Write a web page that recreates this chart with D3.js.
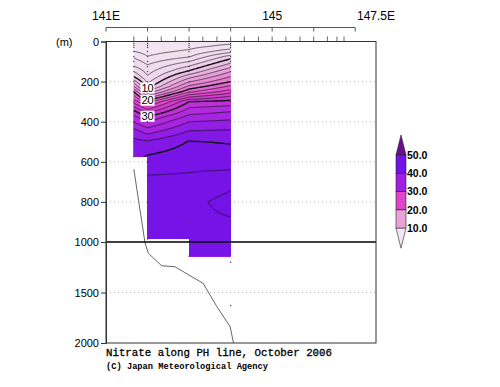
<!DOCTYPE html>
<html>
<head>
<meta charset="utf-8">
<script src="https://cdn.jsdelivr.net/npm/d3@7"></script>
<style>
  body { margin: 0; background: #fff; }
  svg { display: block; }
</style>
</head>
<body>
<div id="chart"></div>
<script>
// PH line stations (deg E) and the deepest sample of each
const stationLon = [141.67, 142.0, 143.0, 144.0]
const stationMaxDepth = [575, 985, 1140, 1630]

// standard depths (m) of the gridded profiles
const levels = [0, 25, 50, 75, 100, 125, 150, 175, 200, 225, 250, 275, 300, 325, 350, 375, 400, 450, 500, 550, 600, 700, 800, 900, 1000, 1100, 1150]

const nitrate141_67 = [0.3, 1.0, 2.05, 3.6, 5.0, 6.1, 8.0, 9.9, 13.0, 16.2, 19.9, 22.6, 25.2, 28.0, 30.6, 32.5, 33.9, 36.9, 38.6, 39.4, null, null, null, null, null, null, null]
const nitrate142_00 = [0.4, 0.7, 1.3, 2.05, 3.3, 4.4, 5.3, 6.2, 7.5, 9.1, 12.6, 16.8, 21.2, 24.4, 27.4, 30.2, 32.0, 35.3, 38.3, 39.6, 40.8, 42.6, 43.1, 43.3, 43.4, null, null]
const nitrate143_00 = [0.8, 1.4, 2.4, 3.8, 6.0, 8.2, 10.4, 13.2, 15.8, 18.6, 21.5, 25.6, 30.0, 31.7, 33.1, 34.6, 36.0, 38.2, 40.1, 40.7, 41.3, 42.6, 43.5, 43.6, 43.6, 43.5, 43.5]
const nitrate144_00 = [1.2, 2.7, 5.3, 8.9, 11.3, 13.5, 16.0, 18.0, 20.0, 22.5, 25.0, 28.3, 30.6, 32.3, 34.0, 35.3, 36.4, 38.4, 39.85, 40.5, 41.0, 43.5, 44.6, 43.8, 43.5, 43.3, 43.2]

// sample depths shown as dots
const sampleDepths = [
  [0, 10, 20, 30, 50, 75, 100, 125, 150, 200, 250, 300, 400, 500, 575],
  [0, 10, 20, 30, 50, 75, 100, 125, 150, 200, 250, 300, 400, 500, 600, 700, 800, 900, 985],
  [0, 10, 20, 30, 50, 75, 100, 125, 150, 200, 250, 300, 400, 500, 600, 700, 800, 900, 1000, 1140],
  [0, 10, 20, 30, 50, 75, 100, 125, 150, 200, 250, 300, 400, 500, 600, 700, 800, 900, 1000, 1200, 1630]
]

// sea floor profile
const bottomLon = [141.67, 141.94, 142.02, 142.34, 142.66, 143.34, 143.67, 143.99, 144.07]
const bottomDepth = [637, 1010, 1112, 1235, 1245, 1410, 1640, 1840, 2000]

// station ticks on the upper frame
const tickLon = [141.67, 142.0, 142.33, 142.67, 143.0, 143.33, 143.67, 144.0, 144.33, 144.67, 145.0, 145.33, 145.67, 146.0, 146.33, 146.56, 146.73]

const depthTicks = [0, 200, 400, 600, 800, 1000, 1500, 2000]
const gridDepths = [200, 400, 600, 800, 1500]
const legendValues = [50, 40, 30, 20, 10]
const legendColors = ['#6a0f8e', '#7312e6', '#a11fe0', '#e044c8', '#e8a2d8', '#f5e6f5']
const labelValues = [10, 20, 30]

const width = 500
const height = 387

const svg = d3.select('#chart').append('svg')
    .attr('width', width)
    .attr('height', height)
    .style('font-family', '"Liberation Sans", Arial, sans-serif')

const x = d3.scaleLinear().domain([141, 147.5]).range([106, 376])
const y = d3.scaleLinear().domain([0, 1000, 2000]).range([41.5, 242, 343])

/**
 * Hold the last value where a profile stops, so the grid stays finite
 */
const columns = [nitrate141_67, nitrate142_00, nitrate143_00, nitrate144_00].map(col => {
  let last = col[0]
  return col.map(v => (v == null ? last : (last = v)))
})

function profileAt (col, d) {
  d = Math.max(levels[0], Math.min(levels[levels.length - 1], d))
  let k = d3.bisectRight(levels, d) - 1
  if (k >= levels.length - 1) k = levels.length - 2
  let t = (d - levels[k]) / (levels[k + 1] - levels[k])
  return col[k] + (col[k + 1] - col[k]) * t
}

function valueAt (lon, d) {
  lon = Math.max(stationLon[0], Math.min(stationLon[3], lon))
  let i = d3.bisectRight(stationLon, lon) - 1
  if (i >= stationLon.length - 1) i = stationLon.length - 2
  let f = (lon - stationLon[i]) / (stationLon[i + 1] - stationLon[i])
  return profileAt(columns[i], d) * (1 - f) + profileAt(columns[i + 1], d) * f
}

// grid for d3.contours
const lonStep = 0.025
const depthStep = 5
const pad = 2
const lon0 = stationLon[0] - pad * lonStep
const depth0 = -pad * depthStep
const nx = Math.round((stationLon[3] - stationLon[0]) / lonStep) + 2 * pad + 1
const ny = Math.round(1150 / depthStep) + 2 * pad + 1
const grid = new Array(nx * ny)
for (let j = 0; j < ny; j++) {
  for (let i = 0; i < nx; i++) {
    grid[j * nx + i] = valueAt(lon0 + i * lonStep, depth0 + j * depthStep)
  }
}

const path = d3.geoPath(d3.geoTransform({
  point: function (gx, gy) {
    this.stream.point(x(lon0 + (gx - 0.5) * lonStep), y(depth0 + (gy - 0.5) * depthStep))
  }
}))

// clip to the sampled part of the section
let clipPts = [[stationLon[0], 0], [stationLon[3], 0]]
for (let i = stationLon.length - 2; i >= 0; i--) {
  let bottom = Math.min(stationMaxDepth[i], stationMaxDepth[i + 1])
  clipPts.push([stationLon[i + 1], bottom], [stationLon[i], bottom])
}
svg.append('clipPath').attr('id', 'section')
  .append('polygon')
    .attr('points', clipPts.map(p => [x(p[0]), y(p[1])].join(',')).join(' '))

// dotted depth grid
svg.append('g')
  .selectAll('line')
  .data(gridDepths)
  .join('line')
    .attr('x1', x(141)).attr('x2', x(147.5))
    .attr('y1', d => y(d)).attr('y2', d => y(d))
    .attr('stroke', '#aaa')
    .attr('stroke-width', 0.8)
    .attr('stroke-dasharray', '1,3')

// shading
const shade = d3.scaleLinear()
    .domain([0, 8, 12, 16, 20, 25, 30, 35, 40, 50])
    .range(['#f3e6f3', '#efd6ed', '#eab8e2', '#e696d6', '#e070d0', '#dc48c8', '#c432d6', '#a424e0', '#7a14e8', '#6e10e6'])
    .clamp(true)

const section = svg.append('g').attr('clip-path', 'url(#section)')

const fillLevels = d3.range(0, 50, 2)
section.append('g')
  .selectAll('path')
  .data(d3.contours().size([nx, ny]).thresholds(fillLevels)(grid))
  .join('path')
    .attr('d', path)
    .attr('fill', d => shade(d.value + 1))
    .attr('stroke', d => shade(d.value + 1))
    .attr('stroke-width', 0.4)

const lineLevels = d3.range(2, 46, 2)
section.append('g')
  .selectAll('path')
  .data(d3.contours().size([nx, ny]).thresholds(lineLevels)(grid))
  .join('path')
    .attr('d', path)
    .attr('fill', 'none')
    .attr('stroke', '#111')
    .attr('stroke-width', d => (d.value % 10 === 0 ? 1.4 : 0.6))

// contour labels at 142.0E
function crossing (col, v) {
  for (let k = 0; k < levels.length - 1; k++) {
    if ((col[k] - v) * (col[k + 1] - v) <= 0 && col[k + 1] !== col[k]) {
      return levels[k] + (v - col[k]) / (col[k + 1] - col[k]) * (levels[k + 1] - levels[k])
    }
  }
  return null
}
const labels = svg.append('g')
  .selectAll('g')
  .data(labelValues)
  .join('g')
    .attr('transform', d => `translate(${x(stationLon[1])},${y(crossing(columns[1], d))})`)
labels.append('rect')
    .attr('x', -7).attr('y', -5.5).attr('width', 14).attr('height', 11)
    .attr('fill', '#fff')
labels.append('text')
    .attr('text-anchor', 'middle')
    .attr('dy', '0.36em')
    .attr('font-size', 11)
    .text(d => d)

// sample dots
svg.append('g')
  .selectAll('g')
  .data(sampleDepths)
  .join('g')
  .selectAll('circle')
  .data((depths, i) => depths.map(d => [stationLon[i], d]))
  .join('circle')
    .attr('cx', d => x(d[0]))
    .attr('cy', d => y(d[1]))
    .attr('r', 0.7)
    .attr('fill', '#444')

// sea floor
svg.append('path')
    .datum(d3.zip(bottomLon, bottomDepth))
    .attr('d', d3.line().x(d => x(d[0])).y(d => y(d[1])))
    .attr('fill', 'none')
    .attr('stroke', '#555')
    .attr('stroke-width', 0.9)

// 1000 m line
svg.append('line')
    .attr('x1', x(141)).attr('x2', x(147.5))
    .attr('y1', y(1000)).attr('y2', y(1000))
    .attr('stroke', '#000')
    .attr('stroke-width', 1.3)

// frame
svg.append('rect')
    .attr('x', x(141)).attr('y', y(0))
    .attr('width', x(147.5) - x(141)).attr('height', y(2000) - y(0))
    .attr('fill', 'none')
    .attr('stroke', '#333')
    .attr('stroke-width', 1)

// station ticks above the frame
svg.append('g')
  .selectAll('line')
  .data(tickLon)
  .join('line')
    .attr('x1', d => x(d)).attr('x2', d => x(d))
    .attr('y1', y(0) - 5).attr('y2', y(0))
    .attr('stroke', '#444')
    .attr('stroke-width', 0.8)

// depth axis
const yAxis = svg.append('g')
    .attr('transform', `translate(${x(141)},0)`)
    .call(d3.axisLeft(y).tickValues(depthTicks).tickFormat(d3.format('d')).tickSize(5).tickPadding(2))
yAxis.select('.domain').attr('stroke', '#333')
yAxis.selectAll('.tick line').attr('stroke', '#333')
yAxis.selectAll('text')
    .attr('font-family', '"Liberation Sans", Arial, sans-serif')
    .attr('font-size', 11)
    .attr('fill', '#000')

svg.append('text')
    .attr('x', 56).attr('y', y(0) + 4)
    .attr('font-size', 11)
    .text('(m)')

// longitude axis
const topY = 27.5
svg.append('line')
    .attr('x1', x(141)).attr('x2', x(147))
    .attr('y1', topY).attr('y2', topY)
    .attr('stroke', '#555')
svg.append('g')
  .selectAll('line')
  .data(d3.range(141, 148))
  .join('line')
    .attr('x1', d => x(d)).attr('x2', d => x(d))
    .attr('y1', topY).attr('y2', topY + 4)
    .attr('stroke', '#555')
svg.append('g')
  .selectAll('text')
  .data([[141, '141E'], [145, '145'], [147.5, '147.5E']])
  .join('text')
    .attr('x', d => x(d[0]))
    .attr('y', 20)
    .attr('text-anchor', 'middle')
    .attr('font-size', 12)
    .text(d => d[1])

// colour bar
const lg = svg.append('g').attr('transform', 'translate(396,0)')
const lgW = 10
const boxH = 18.3
const lgTop = 155
lg.append('path')
    .attr('d', `M0,${lgTop} L${lgW / 2},${lgTop - 20} L${lgW},${lgTop} Z`)
    .attr('fill', legendColors[0])
    .attr('stroke', '#222').attr('stroke-width', 0.6)
lg.selectAll('rect')
  .data(legendValues.slice(0, 4))
  .join('rect')
    .attr('x', 0)
    .attr('y', (d, i) => lgTop + i * boxH)
    .attr('width', lgW).attr('height', boxH)
    .attr('fill', (d, i) => legendColors[i + 1])
    .attr('stroke', '#222').attr('stroke-width', 0.6)
const lgBottom = lgTop + 4 * boxH
lg.append('path')
    .attr('d', `M0,${lgBottom} L${lgW / 2},${lgBottom + 20} L${lgW},${lgBottom} Z`)
    .attr('fill', legendColors[5])
    .attr('stroke', '#222').attr('stroke-width', 0.6)
lg.selectAll('text')
  .data(legendValues)
  .join('text')
    .attr('x', lgW + 1)
    .attr('y', (d, i) => lgTop + i * boxH)
    .attr('dy', '0.36em')
    .attr('font-size', 10.5)
    .attr('font-weight', 'bold')
    .text(d => d.toFixed(1))

// titles
svg.append('text')
    .attr('x', 106).attr('y', 356)
    .attr('font-family', '"Liberation Mono", "Courier New", monospace')
    .attr('font-size', 11)
    .attr('stroke', '#000')
    .attr('stroke-width', 0.3)
    .attr('textLength', 226)
    .attr('lengthAdjust', 'spacingAndGlyphs')
    .text('Nitrate along PH line, October 2006')
svg.append('text')
    .attr('x', 106).attr('y', 368.5)
    .attr('font-family', '"Liberation Mono", "Courier New", monospace')
    .attr('font-size', 9)
    .attr('font-weight', 'bold')
    .attr('textLength', 162)
    .attr('lengthAdjust', 'spacingAndGlyphs')
    .text('(C) Japan Meteorological Agency')
</script>
</body>
</html>
